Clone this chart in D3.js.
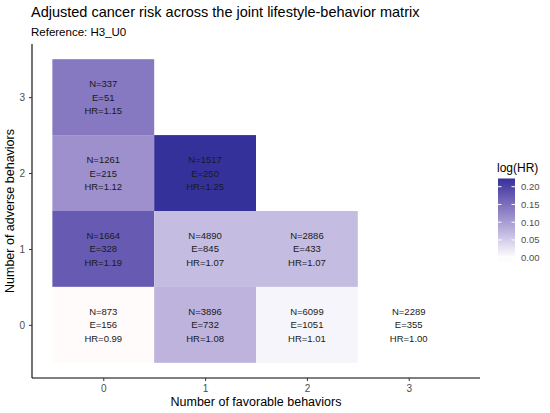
<!DOCTYPE html>
<html>
<head>
<meta charset="utf-8">
<script src="https://cdn.jsdelivr.net/npm/d3@7"></script>
<style>
  body { margin: 0; background: #fff; }
  text { font-family: "Liberation Sans", Arial, sans-serif; }
</style>
</head>
<body>
<div id="chart"></div>
<script>
// cells of the matrix
const favorable = [0, 0, 1, 0, 1, 2, 0, 1, 2, 3];
const adverse   = [3, 2, 2, 1, 1, 1, 0, 0, 0, 0];
const nCount    = [337, 1261, 1517, 1664, 4890, 2886, 873, 3896, 6099, 2289];
const events    = [51, 215, 250, 328, 845, 433, 156, 732, 1051, 355];
const hr        = [1.15, 1.12, 1.25, 1.19, 1.07, 1.07, 0.99, 1.08, 1.01, 1.00];
const xTicks = [0, 1, 2, 3];
const yTicks = [0, 1, 2, 3];
const legendTicks = [0.00, 0.05, 0.10, 0.15, 0.20];

const width = 550, height = 413;
const margin = {left: 32, right: 70, top: 44, bottom: 35};

const cells = favorable.map((f, i) => ({
  x: f, y: adverse[i], n: nCount[i], e: events[i], hr: hr[i], logHR: Math.log(hr[i])
}));

const svg = d3.select("#chart").append("svg")
  .attr("width", width)
  .attr("height", height);

const x = d3.scaleLinear().domain([-0.7, 3.7]).range([margin.left, width - margin.right]);
const y = d3.scaleLinear().domain([-0.7, 3.7]).range([height - margin.bottom, margin.top]);

// gradient2: low red, mid white, high dark blue
const maxAbs = d3.max(cells, d => Math.abs(d.logHR));
const lowCol = "#e5332a", highCol = "#35319b";
function fill(v) {
  if (v >= 0) return d3.interpolateLab("#ffffff", highCol)(v / maxAbs);
  return d3.interpolateLab("#ffffff", lowCol)(-v / maxAbs * 0.45);
}

const cw = x(1) - x(0), ch = y(0) - y(1);

svg.append("g")
  .selectAll("rect")
  .data(cells)
  .join("rect")
  .attr("x", d => x(d.x - 0.5))
  .attr("y", d => y(d.y + 0.5))
  .attr("width", cw)
  .attr("height", ch)
  .attr("fill", d => fill(d.logHR));

const labels = svg.append("g")
  .selectAll("text")
  .data(cells)
  .join("text")
  .attr("text-anchor", "middle")
  .attr("font-size", 9.5)
  .attr("fill", "#1a1a1a");
labels.each(function (d) {
  const t = d3.select(this);
  const lines = ["N=" + d.n, "E=" + d.e, "HR=" + d.hr.toFixed(2)];
  lines.forEach((s, k) => {
    t.append("tspan")
      .attr("x", x(d.x))
      .attr("y", y(d.y) + (k - 1) * 13.5 + 3.5)
      .text(s);
  });
});

// axes
const xAxis = svg.append("g")
  .attr("transform", `translate(0,${height - margin.bottom})`)
  .call(d3.axisBottom(x).tickValues(xTicks).tickFormat(d3.format("d")).tickSize(3).tickPadding(4));
const yAxis = svg.append("g")
  .attr("transform", `translate(${margin.left},0)`)
  .call(d3.axisLeft(y).tickValues(yTicks).tickFormat(d3.format("d")).tickSize(3).tickPadding(4));
[xAxis, yAxis].forEach(a => {
  a.select(".domain").attr("stroke", "#000").attr("stroke-width", 1.1).attr("d",
    a === xAxis ? `M${margin.left},0H${width - margin.right}` : `M0,${margin.top}V${height - margin.bottom}`);
  a.selectAll(".tick line").attr("stroke", "#333");
  a.selectAll(".tick text").attr("font-size", 10).attr("fill", "#4d4d4d")
    .style("font-family", "'Liberation Sans', Arial, sans-serif");
});

// titles
svg.append("text")
  .attr("x", 31).attr("y", 17)
  .attr("font-size", 14.5).attr("fill", "#000")
  .text("Adjusted cancer risk across the joint lifestyle-behavior matrix");
svg.append("text")
  .attr("x", 31).attr("y", 36)
  .attr("font-size", 11.5).attr("fill", "#000")
  .text("Reference: H3_U0");
svg.append("text")
  .attr("x", (margin.left + width - margin.right) / 2).attr("y", 406)
  .attr("text-anchor", "middle").attr("font-size", 12.5)
  .text("Number of favorable behaviors");
svg.append("text")
  .attr("transform", `translate(14,${(margin.top + height - margin.bottom) / 2}) rotate(-90)`)
  .attr("text-anchor", "middle").attr("font-size", 12.5)
  .text("Number of adverse behaviors");

// legend colour bar
const lg = svg.append("g");
const lMin = -maxAbs * 0.045, lMax = d3.max(cells, d => d.logHR);
const ly = d3.scaleLinear().domain([0, 0.20]).range([257.7, 186.7]);
const defs = svg.append("defs");
const grad = defs.append("linearGradient").attr("id", "lgrad")
  .attr("x1", 0).attr("y1", 1).attr("x2", 0).attr("y2", 0);
d3.range(0, 1.0001, 0.05).forEach(t => {
  const v = lMin + t * (lMax - lMin);
  grad.append("stop").attr("offset", t).attr("stop-color", fill(v));
});
const barX = 498, barW = 17;
lg.append("rect")
  .attr("x", barX).attr("y", ly(lMax))
  .attr("width", barW).attr("height", ly(lMin) - ly(lMax))
  .attr("fill", "url(#lgrad)");
lg.selectAll("line.tk")
  .data(legendTicks)
  .join("line")
  .attr("class", "tk")
  .attr("x1", barX).attr("x2", barX + 3.5)
  .attr("y1", d => ly(d)).attr("y2", d => ly(d))
  .attr("stroke", "#fff");
lg.selectAll("line.tk2")
  .data(legendTicks)
  .join("line")
  .attr("class", "tk2")
  .attr("x1", barX + barW - 3.5).attr("x2", barX + barW)
  .attr("y1", d => ly(d)).attr("y2", d => ly(d))
  .attr("stroke", "#fff");
lg.selectAll("text.lb")
  .data(legendTicks)
  .join("text")
  .attr("class", "lb")
  .attr("x", barX + barW + 6)
  .attr("y", d => ly(d) + 3.5)
  .attr("font-size", 9.5).attr("fill", "#4d4d4d")
  .text(d => d.toFixed(2));
lg.append("text")
  .attr("x", barX - 1).attr("y", 172)
  .attr("font-size", 12)
  .text("log(HR)");
</script>
</body>
</html>
